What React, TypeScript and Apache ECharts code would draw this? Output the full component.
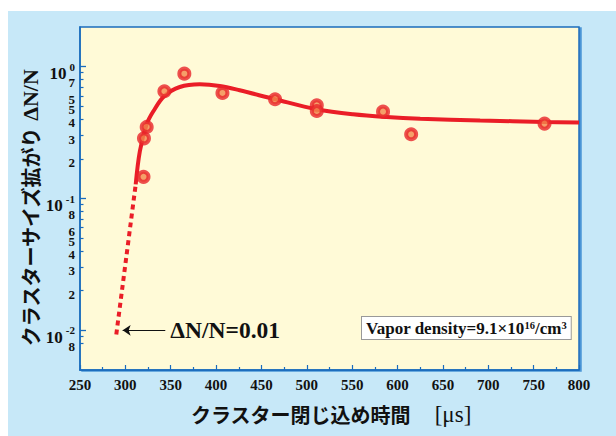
import React, { useEffect, useRef } from 'react';
import * as echarts from 'echarts';

// Measured points (confinement time [µs], cluster size spread ΔN/N)
const measuredTimes = [320, 320.5, 323.5, 343, 365, 407, 465, 511, 511, 584, 615, 762];
const measuredSpread = [0.146, 0.286, 0.349, 0.651, 0.885, 0.632, 0.566, 0.509, 0.461, 0.456, 0.307, 0.37];

// Solid fitted curve
const fitTimes = [311.4, 316, 323.5, 331, 343, 360, 382, 404, 426, 465, 511, 551, 588, 625, 691, 762, 800];
const fitSpread = [0.128, 0.229, 0.366, 0.461, 0.599, 0.701, 0.735, 0.714, 0.662, 0.566, 0.475, 0.435, 0.415, 0.403, 0.391, 0.381, 0.377];

// Dotted extrapolation
const extrapTimes = [290, 311.4];
const extrapSpread = [0.0093, 0.128];

// Arrow annotation (ΔN/N = 0.01)
const arrowTimes = [297, 344];
const arrowLevel = 0.01;
const arrowText = 'ΔN/N=0.01';

// Axis ticks / labels
const xTickMin = 250;
const xTickMax = 800;
const xTickStep = 50;
const yMin = 0.005;
const yMax = 2;
const yMajorTicks = [0.01, 0.1, 1];
const yMajorExponents = ['-2', '-1', '0'];
const yMinorTicks = [0.008, 0.009, 0.02, 0.03, 0.04, 0.05, 0.06, 0.07, 0.08, 0.09, 0.2, 0.3, 0.4, 0.5, 0.6, 0.7, 0.8, 0.9];
const yMinorLabelValues = [0.008, 0.02, 0.03, 0.04, 0.05, 0.06, 0.08, 0.2, 0.3, 0.4, 0.5, 0.6, 0.8];
const yMinorLabelTexts = ['8', '2', '3', '4', '5', '6', '8', '2', '3', '4', '5', '5', '7'];

const yTitleMain = 'クラスターサイズ拡がり';
const yTitleSym = 'ΔN/N';
const xTitleMain = 'クラスター閉じ込め時間';
const xTitleUnit = '[μs]';
const noteMain = 'Vapor density=9.1×10';
const noteExp = '16';
const noteUnit = '/cm';
const noteUnitExp = '3';

const SERIF = '"Liberation Serif", "Times New Roman", serif';
const CJK = '"Noto Sans CJK JP", sans-serif';
const AXIS_BLUE = '#1a6cbd';
const RED = '#ea1d27';

function zip(xs: number[], ys: number[]) {
  return xs.map((x, i) => [x, ys[i]]);
}

function findIdx(values: number[], v: number): number {
  for (let i = 0; i < values.length; i++) {
    if (Math.abs(Math.log10(v) - Math.log10(values[i])) < 1e-6) return i;
  }
  return -1;
}

function minorLabel(v: number): string {
  const i = findIdx(yMinorLabelValues, v);
  return i < 0 ? '' : yMinorLabelTexts[i];
}

function majorLabel(v: number): string {
  const i = findIdx(yMajorTicks, v);
  return i < 0 ? '' : '{b|10}{s|' + yMajorExponents[i] + '}';
}

export default function App() {
  const ref = useRef<HTMLDivElement>(null);
  useEffect(() => {
    if (!ref.current) return;
    const chart = echarts.init(ref.current, undefined, { renderer: 'svg' });
    chart.setOption({
      animation: false,
      grid: {
        left: 80,
        right: 37,
        top: 27,
        bottom: 66,
        show: true,
        backgroundColor: '#fffad7',
        borderColor: AXIS_BLUE,
        borderWidth: 1.5,
        shadowColor: 'rgba(60,140,210,0.9)',
        shadowOffsetX: 2,
        shadowOffsetY: 1,
        shadowBlur: 0,
      },
      xAxis: {
        type: 'value',
        min: xTickMin,
        max: xTickMax,
        interval: xTickStep,
        axisLine: { show: true, lineStyle: { color: AXIS_BLUE, width: 1.5 } },
        axisTick: { show: true, inside: true, length: 5, lineStyle: { color: AXIS_BLUE, width: 1.2 } },
        minorTick: { show: true, splitNumber: 2, length: 3, lineStyle: { color: AXIS_BLUE, width: 1.2 } },
        splitLine: { show: false },
        axisLabel: {
          color: '#111',
          fontFamily: SERIF,
          fontWeight: 'bold',
          fontSize: 15,
          margin: 7,
          showMinLabel: true,
          showMaxLabel: true,
        },
      },
      yAxis: [
        {
          type: 'log',
          logBase: 10,
          min: yMin,
          max: yMax,
          axisLine: { show: true, lineStyle: { color: AXIS_BLUE, width: 1.5 } },
          axisTick: {
            show: true,
            inside: true,
            length: 3.5,
            customValues: yMinorTicks,
            lineStyle: { color: AXIS_BLUE, width: 1.2 },
          },
          splitLine: { show: false },
          axisLabel: {
            customValues: yMinorLabelValues,
            formatter: (v: number) => minorLabel(v),
            margin: 5,
            verticalAlign: 'top',
            lineHeight: 7,
            fontFamily: SERIF,
            fontWeight: 'bold',
            fontSize: 13,
            color: '#111',
            showMinLabel: true,
            showMaxLabel: true,
          },
        },
        {
          type: 'log',
          logBase: 10,
          min: yMin,
          max: yMax,
          position: 'left',
          axisLine: { show: false },
          axisTick: {
            show: true,
            inside: true,
            length: 6,
            customValues: yMajorTicks,
            lineStyle: { color: AXIS_BLUE, width: 1.3 },
          },
          splitLine: { show: false },
          axisLabel: {
            customValues: yMajorTicks,
            formatter: (v: number) => majorLabel(v),
            margin: 5,
            padding: [10, 0, 0, 0],
            showMinLabel: true,
            showMaxLabel: true,
            rich: {
              b: { fontFamily: SERIF, fontWeight: 'bold', fontSize: 17, color: '#111', lineHeight: 21, verticalAlign: 'bottom' },
              s: { fontFamily: SERIF, fontWeight: 'bold', fontSize: 11, color: '#111', lineHeight: 11, verticalAlign: 'top', padding: [0, 0, 0, 3] },
            },
          },
        },
      ],
      series: [
        {
          type: 'line',
          name: 'fit',
          data: zip(fitTimes, fitSpread),
          smooth: 0.35,
          showSymbol: false,
          lineStyle: { color: RED, width: 4 },
          z: 2,
          silent: true,
        },
        {
          type: 'line',
          name: 'extrapolation',
          data: zip(extrapTimes, extrapSpread),
          showSymbol: false,
          lineStyle: { color: RED, width: 4, type: [5, 4] },
          z: 2,
          silent: true,
          markLine: {
            silent: true,
            symbol: ['arrow', 'none'],
            symbolSize: 8,
            lineStyle: { color: '#111', width: 1.2, type: 'solid' },
            label: {
              show: true,
              position: 'end',
              formatter: arrowText,
              color: '#111',
              fontFamily: SERIF,
              fontWeight: 'bold',
              fontSize: 23.5,
              distance: 5,
            },
            data: [[{ coord: [arrowTimes[0], arrowLevel] }, { coord: [arrowTimes[1], arrowLevel] }]],
          },
        },
        {
          type: 'scatter',
          name: 'measured',
          data: zip(measuredTimes, measuredSpread),
          symbol: 'circle',
          symbolSize: 10,
          itemStyle: { color: '#f2884e', borderColor: '#e8262b', borderWidth: 4 },
          z: 3,
        },
      ],
      graphic: [
        {
          type: 'text',
          x: 30,
          y: 208,
          rotation: Math.PI / 2,
          style: {
            text: '{j|' + yTitleMain + '}{g| }{d|' + yTitleSym + '}',
            align: 'center',
            verticalAlign: 'middle',
            rich: {
              j: { fontFamily: CJK, fontWeight: 'bold', fontSize: 20, fill: '#111' },
              g: { width: 6 },
              d: { fontFamily: SERIF, fontWeight: 'bold', fontSize: 22, fill: '#111' },
            },
          },
        },
        {
          type: 'text',
          x: 331,
          y: 414,
          style: {
            text: '{j|' + xTitleMain + '}{g| }{d|' + xTitleUnit + '}',
            align: 'center',
            verticalAlign: 'middle',
            rich: {
              j: { fontFamily: CJK, fontWeight: 'bold', fontSize: 20, fill: '#111' },
              g: { width: 24 },
              d: { fontFamily: SERIF, fontSize: 23, fill: '#111' },
            },
          },
        },
        {
          type: 'text',
          x: 362,
          y: 317,
          style: {
            text: '{b|' + noteMain + '}{s|' + noteExp + '}{b|' + noteUnit + '}{s|' + noteUnitExp + '}',
            backgroundColor: '#ffffff',
            borderColor: '#999999',
            borderWidth: 1,
            padding: [3, 4, 2, 4],
            rich: {
              b: { fontFamily: SERIF, fontWeight: 'bold', fontSize: 17, fill: '#111', lineHeight: 17, verticalAlign: 'bottom' },
              s: { fontFamily: SERIF, fontWeight: 'bold', fontSize: 10.5, fill: '#111', lineHeight: 10, verticalAlign: 'top' },
            },
          },
        },
      ],
    });
    return () => chart.dispose();
  }, []);

  return (
    <div style={{ position: 'fixed', left: 0, top: 0, width: 616, height: 436, background: '#ffffff' }}>
      <div style={{ position: 'absolute', left: 8, top: 11, width: 608, height: 425, background: '#c7e8f8' }} />
      <div ref={ref} style={{ position: 'absolute', left: 0, top: 0, width: 616, height: 436 }} />
    </div>
  );
}
